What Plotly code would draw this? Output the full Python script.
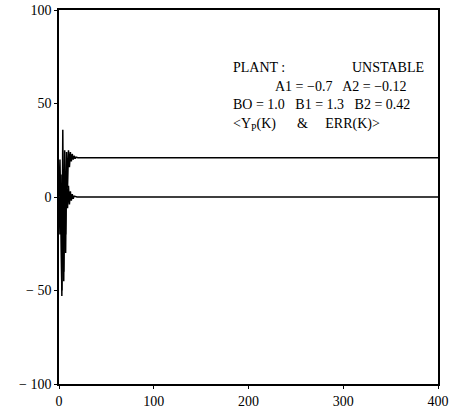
import plotly.graph_objects as go

# Transient part, then steady state
k_transient = list(range(0, 20))
yp_transient = [0, -20, 12, -53, 36, -45, 25, -30, 24, 5, 25, 16, 24, 19, 23, 20, 22, 20.5, 21.3, 20.9]
err_transient = [0, 20, -10, -50, 15, -40, -5, -20, 8, -6, 6, -4, 3, -2, 1.5, -1, 0.5, 0.2, -0.1, 0.0]
yp_steady = 21.0
err_steady = 0.0
k_end = 400

k = k_transient + list(range(k_transient[-1] + 1, k_end + 1))
yp = yp_transient + [yp_steady] * (k_end - k_transient[-1])
err = err_transient + [err_steady] * (k_end - k_transient[-1])

x_ticks = [0, 100, 200, 300, 400]
y_ticks = [-100, -50, 0, 50, 100]
y_ticktext = ["− 100", "− 50", "0", "50", "100"]

font = dict(family="Liberation Serif", size=14, color="black")

fig = go.Figure()
fig.add_trace(go.Scatter(x=k, y=yp, mode="lines", line=dict(color="black", width=1.5), name="Y_P(K)"))
fig.add_trace(go.Scatter(x=k, y=err, mode="lines", line=dict(color="black", width=1.5), name="ERR(K)"))

L, R, T, B = 59, 14, 10, 29
W, H = 452, 413
fig.update_layout(
    template="none",
    width=W, height=H,
    margin=dict(l=L, r=R, t=T, b=B, autoexpand=False),
    paper_bgcolor="white", plot_bgcolor="white",
    showlegend=False,
    font=font,
)
fig.update_xaxes(range=[0, 400], tickvals=x_ticks, showgrid=False, zeroline=False, automargin=False,
                 showline=True, linecolor="black", linewidth=1.5, mirror=True,
                 ticks="outside", ticklen=3, tickcolor="black", tickfont=font)
fig.update_yaxes(range=[-100, 100], tickvals=y_ticks, ticktext=y_ticktext, showgrid=False, zeroline=False,
                 automargin=False,
                 showline=True, linecolor="black", linewidth=1.5, mirror=True,
                 ticks="outside", ticklen=3, tickcolor="black", tickfont=font)

pw, ph = W - L - R, H - T - B
ann = [
    ("PLANT :", 231, 68, "left"),
    ("UNSTABLE", 426, 68, "right"),
    ("A1 = −0.7   A2 = −0.12", 273, 86, "left"),
    ("BO = 1.0   B1 = 1.3   B2 = 0.42", 231, 104, "left"),
    ("&lt;Y<sub>P</sub>(K)      &amp;     ERR(K)&gt;", 231, 124, "left"),
]
for text, px, py, anchor in ann:
    fig.add_annotation(x=(px - L) / pw, y=1 - (py - T) / ph, xref="paper", yref="paper",
                       text=text, showarrow=False, xanchor=anchor, yanchor="middle",
                       font=font)

fig.write_html("out.html", config={"displayModeBar": False},
               post_script="document.body.style.margin='0';")
